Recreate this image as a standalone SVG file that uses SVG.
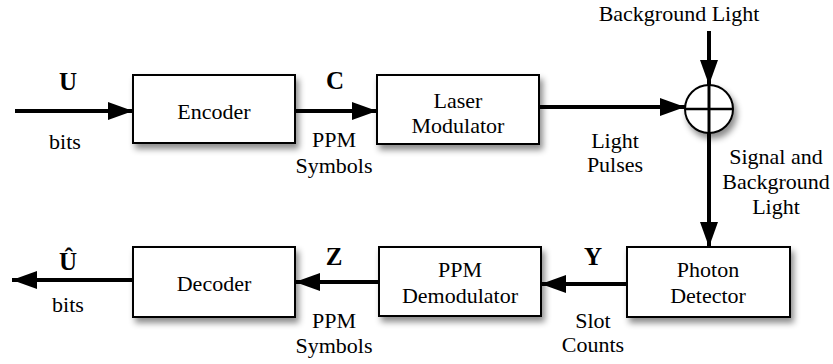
<svg xmlns="http://www.w3.org/2000/svg" width="833" height="364" viewBox="0 0 833 364">
<style>
.box{fill:#fff;stroke:#000;stroke-width:2}
.t{font-family:"Liberation Serif","Times New Roman",serif;font-size:22px;text-anchor:middle;fill:#000}
.b{font-family:"Liberation Serif","Times New Roman",serif;font-size:25px;font-weight:bold;text-anchor:middle;fill:#000}
.ln{stroke:#000;stroke-width:4;fill:none;marker-end:url(#ah)}
</style>
<defs>
<filter id="sh" x="-20%" y="-20%" width="150%" height="160%">
<feDropShadow dx="3" dy="5" stdDeviation="3" flood-color="#000" flood-opacity="0.45"/>
</filter>
<marker id="ah" markerUnits="userSpaceOnUse" markerWidth="26" markerHeight="20" refX="25" refY="9" orient="auto">
<path d="M0,0 L25,9 L0,18 z" fill="#000"/>
</marker>
</defs>
<g id="connectors">
<line class="ln" x1="15" y1="111" x2="133" y2="111"/>
<line class="ln" x1="295" y1="111" x2="377" y2="111"/>
<line class="ln" x1="539" y1="107" x2="685" y2="107"/>
<line class="ln" x1="709" y1="31" x2="709" y2="85"/>
<line class="ln" x1="709" y1="133" x2="709" y2="247"/>
<line class="ln" x1="627" y1="284" x2="541" y2="284"/>
<line class="ln" x1="379" y1="282" x2="295" y2="282"/>
<line class="ln" x1="133" y1="280" x2="12" y2="280"/>
</g>
<g id="encoder">
<rect class="box" x="133" y="75" width="162" height="68" filter="url(#sh)"/>
<text class="t" x="214" y="119">Encoder</text>
</g>
<g id="laser">
<rect class="box" x="377" y="75" width="162" height="69" filter="url(#sh)"/>
<text class="t" x="458" y="108">Laser</text>
<text class="t" x="458" y="133">Modulator</text>
</g>
<g id="sum">
<circle cx="709" cy="109" r="24" fill="#fff" stroke="#000" stroke-width="2" filter="url(#sh)"/>
<line x1="685" y1="109" x2="733" y2="109" stroke="#000" stroke-width="2.5"/>
<line x1="709" y1="85" x2="709" y2="133" stroke="#000" stroke-width="3"/>
</g>
<g id="photon">
<rect class="box" x="627" y="247" width="163" height="70" filter="url(#sh)"/>
<text class="t" x="708" y="277">Photon</text>
<text class="t" x="708" y="303">Detector</text>
</g>
<g id="demod">
<rect class="box" x="379" y="247" width="162" height="69" filter="url(#sh)"/>
<text class="t" x="460" y="277">PPM</text>
<text class="t" x="460" y="303">Demodulator</text>
</g>
<g id="decoder">
<rect class="box" x="133" y="247" width="162" height="70" filter="url(#sh)"/>
<text class="t" x="214" y="291">Decoder</text>
</g>
<g id="labels">
<text class="b" x="68" y="90">U</text>
<text class="t" x="65" y="149">bits</text>
<text class="b" x="335" y="89">C</text>
<text class="t" x="334" y="147">PPM</text>
<text class="t" x="334" y="173">Symbols</text>
<text class="t" x="679" y="21">Background Light</text>
<text class="t" x="615" y="148">Light</text>
<text class="t" x="615" y="172">Pulses</text>
<text class="t" x="776" y="164">Signal and</text>
<text class="t" x="776" y="189">Background</text>
<text class="t" x="776" y="214">Light</text>
<text class="b" x="68" y="270">Û</text>
<text class="t" x="68" y="312">bits</text>
<text class="b" x="334" y="265">Z</text>
<text class="t" x="334" y="328">PPM</text>
<text class="t" x="334" y="353">Symbols</text>
<text class="b" x="593" y="265">Y</text>
<text class="t" x="593" y="328">Slot</text>
<text class="t" x="593" y="352">Counts</text>
</g>
</svg>
